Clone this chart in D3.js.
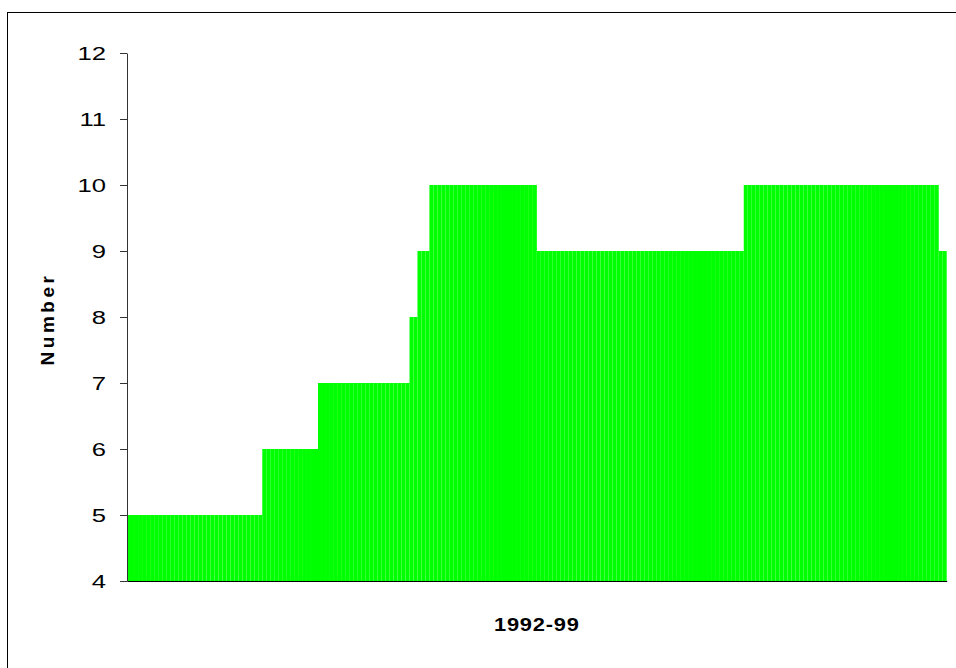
<!DOCTYPE html>
<html>
<head>
    <script src="https://cdn.jsdelivr.net/npm/d3@7"></script>
    <style type="text/css">
        html, body {
            margin: 0;
            padding: 0;
            background: #fff;
        }
        svg {
            display: block;
        }
        .tick text {
            font-family: "Liberation Sans", Arial, sans-serif;
        }
    </style>
</head>
<body>
    <div id="chart"></div>

    <script>
    // one value per period, 1992-99
    var counts = [
        5,5,5,5,5,5,5,5,5,5,
        5,5,5,5,5,5,5,5,5,5,
        5,5,5,5,5,5,5,5,5,5,
        5,5,5,5,
        6,6,6,6,6,6,6,6,6,6,
        6,6,6,6,
        7,7,7,7,7,7,7,7,7,7,
        7,7,7,7,7,7,7,7,7,7,
        7,7,7,
        8,8,
        9,9,9,
        10,10,10,10,10,10,10,10,10,10,
        10,10,10,10,10,10,10,10,10,10,
        10,10,10,10,10,10,10,
        9,9,9,9,9,9,9,9,9,9,
        9,9,9,9,9,9,9,9,9,9,
        9,9,9,9,9,9,9,9,9,9,
        9,9,9,9,9,9,9,9,9,9,
        9,9,9,9,9,9,9,9,9,9,
        9,9,
        10,10,10,10,10,10,10,10,10,10,
        10,10,10,10,10,10,10,10,10,10,
        10,10,10,10,10,10,10,10,10,10,
        10,10,10,10,10,10,10,10,10,10,
        10,10,10,10,10,10,10,10,10,
        9,9
    ];
    var periods = counts.map(function(d, i) { return i; });
    var yTicks = [4, 5, 6, 7, 8, 9, 10, 11, 12];
    var xTitle = "1992-99";
    var yTitle = "Number";

    var width = 956, height = 668;
    var margin = {top: 53, right: 9.3, bottom: 87, left: 127};

    var svg = d3.select("#chart").append("svg")
        .attr("width", width)
        .attr("height", height);

    // outer frame, runs off the right and bottom edge
    svg.append("rect")
        .attr("x", 7.5)
        .attr("y", 12.5)
        .attr("width", 980)
        .attr("height", 700)
        .attr("fill", "none")
        .attr("stroke", "#000");

    var x = d3.scaleBand()
        .domain(periods)
        .range([margin.left, width - margin.right])
        .padding(0);

    var y = d3.scaleLinear()
        .domain([4, 12])
        .range([height - margin.bottom, margin.top]);

    svg.append("g")
        .selectAll("rect")
        .data(counts)
        .enter()
        .append("rect")
        .attr("x", function(d, i) { return x(i); })
        .attr("y", function(d) { return y(d); })
        .attr("width", x.bandwidth())
        .attr("height", function(d) { return y(4) - y(d); })
        .attr("fill", "#00ff00");

    // x axis: plain line, no ticks
    svg.append("g")
        .attr("transform", "translate(0," + y(4) + ")")
        .call(d3.axisBottom(x).tickValues([]).tickSizeOuter(0))
        .select(".domain")
        .attr("stroke", "#000");

    var yAxis = svg.append("g")
        .attr("transform", "translate(" + margin.left + ",0)")
        .call(d3.axisLeft(y).tickValues(yTicks).tickSize(7).tickSizeOuter(0).tickFormat(d3.format("d")));

    yAxis.select(".domain").attr("stroke", "#333");
    yAxis.selectAll(".tick line").attr("stroke", "#333");
    yAxis.selectAll(".tick text")
        .attr("x", 0)
        .attr("dy", "0.35em")
        .attr("transform", "translate(-21,0) scale(1.35,1)")
        .attr("font-size", 19)
        .attr("fill", "#000");

    svg.append("text")
        .attr("transform", "translate(" + ((margin.left + width - margin.right) / 2) + ",631) scale(1.15,1)")
        .attr("text-anchor", "middle")
        .attr("font-family", "'Liberation Sans', Arial, sans-serif")
        .attr("font-weight", "bold")
        .attr("font-size", 19)
        .attr("letter-spacing", "0.7px")
        .text(xTitle);

    svg.append("text")
        .attr("transform", "translate(54,319) rotate(-90)")
        .attr("text-anchor", "middle")
        .attr("font-family", "'Liberation Sans', Arial, sans-serif")
        .attr("font-weight", "bold")
        .attr("font-size", 19)
        .attr("letter-spacing", "3.5px")
        .text(yTitle);
    </script>
</body>
</html>
